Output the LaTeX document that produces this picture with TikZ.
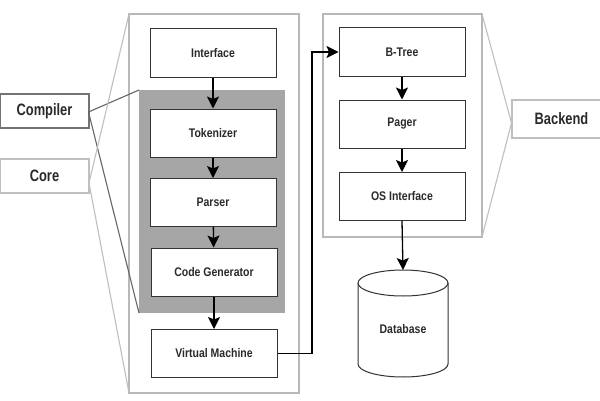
\documentclass[tikz,border=0pt]{standalone}
\usepackage{fontspec}
\setmainfont{Liberation Sans}[FakeStretch=0.84]
\newfontfamily\sidefont{Liberation Sans}[FakeStretch=0.78]
\usetikzlibrary{arrows.meta}
\definecolor{txt}{HTML}{2A2A2A}
\tikzset{
  container/.style={draw=black!28, line width=1.2pt},
  stagebox/.style={draw=black!80, line width=1pt, fill=white, minimum width=126pt, minimum height=48pt, inner sep=0pt,
    text=txt, font=\bfseries\fontsize{12.5}{14}\selectfont},
  sidebox/.style={line width=1.2pt, fill=white, minimum width=89pt, minimum height=34pt, inner sep=0pt,
    text=txt, font=\sidefont\bfseries\fontsize{16.5}{18}\selectfont},
  arr/.style={draw=black, line width=1.3pt, -{Stealth[length=12pt,width=12pt,inset=2.5pt]}},
  darkfan/.style={draw=black!60, line width=1.1pt},
  lightfan/.style={draw=black!25, line width=1.1pt},
}
\begin{document}
\begin{tikzpicture}[x=1pt,y=1pt]
\useasboundingbox (0,0) rectangle (600,400);
\fill[white] (0,0) rectangle (600,400);
\begin{scope}
\clip (0,0) rectangle (600,400);
% containers
\draw[container] (129,7) rectangle (299,386);
\draw[container] (323,163) rectangle (482,386);
\fill[black!35] (139,87) rectangle (285,310);
\coordinate (grTL) at (139,310);
\coordinate (grBL) at (139,87);
\coordinate (lcTL) at (129,386);
\coordinate (lcBL) at (129,7);
\coordinate (rcTR) at (482,386);
\coordinate (rcBR) at (482,163);

% side labels
\node[sidebox, draw=black!55] (compiler) at (44.5,289) {Compiler};
\node[sidebox, draw=black!25] (core) at (44.5,224) {Core};
\node[sidebox, draw=black!25, minimum width=99pt, minimum height=38pt] (backend) at (561.5,281) {Backend};
\coordinate (compP) at (88.5,288);
\coordinate (coreP) at (89,217);
\coordinate (backP) at (511.5,277);

\draw[darkfan] (grTL) -- (compP) -- (grBL);
\draw[lightfan] (lcTL) -- (coreP) -- (lcBL);
\draw[lightfan] (rcTR) -- (backP) -- (rcBR);

% compiler stages
\node[stagebox] (iface) at (213,347) {Interface};
\node[stagebox] (tok) at (213,267) {Tokenizer};
\node[stagebox] (parser) at (213,197.5) {Parser};
\node[stagebox] (codegen) at (214,128) {Code Generator};
\node[stagebox] (vm) at (214,46.5) {Virtual Machine};

% backend stages
\node[stagebox] (btree) at (402,348) {B-Tree};
\node[stagebox] (pager) at (402,276) {Pager};
\node[stagebox] (osi) at (402,203.5) {OS Interface};

% database
\draw[draw=black!80, line width=1pt, fill=white] (358,117) -- (358,36) arc (180:360:45 and 13) -- (448,117) arc (0:180:45 and 13) -- cycle;
\draw[draw=black!80, line width=1pt] (358,117) arc (180:360:45 and 13);
\node[text=txt, font=\bfseries\fontsize{12.5}{14}\selectfont] (db) at (403,71) {Database};
\coordinate (dbtop) at (403,130);

% arrows
\draw[arr] (iface) -- (tok);
\draw[arr] (tok) -- (parser);
\draw[arr] (parser) -- (codegen);
\draw[arr] (codegen) -- (vm);
\draw[arr] (btree) -- (pager);
\draw[arr] (pager) -- (osi);
\draw[arr] (osi.south) -- (dbtop);
\coordinate (bend) at (312,46.5);
\draw[arr] (vm.east) -- (bend) |- (btree.west);
\end{scope}
\end{tikzpicture}
\end{document}
